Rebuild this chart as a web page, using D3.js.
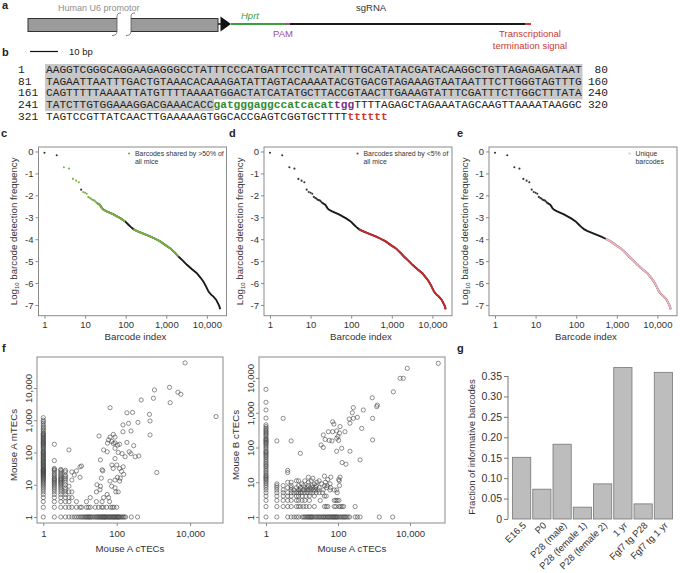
<!DOCTYPE html>
<html><head><meta charset="utf-8">
<script src="https://cdn.jsdelivr.net/npm/d3@7"></script>
<style>body{margin:0;background:#fff}svg{display:block}text{font-family:"Liberation Sans",Arial,sans-serif;fill:#222}text.mono,text.mono tspan{font-family:"Liberation Mono","Courier New",monospace}</style>
</head><body><svg id="fig" width="680" height="573"></svg>
<script>
// ---------------- DATA ----------------
const seqStarts = [1, 81, 161, 241, 321];
const seqEnds = [80, 160, 240, 320, null];
const seqLines = [
  "AAGGTCGGGCAGGAAGAGGGCCTATTTCCCATGATTCCTTCATATTTGCATATACGATACAAGGCTGTTAGAGAGATAAT",
  "TAGAATTAATTTGACTGTAAACACAAAGATATTAGTACAAAATACGTGACGTAGAAAGTAATAATTTCTTGGGTAGTTTG",
  "CAGTTTTTAAAATTATGTTTTAAAATGGACTATCATATGCTTACCGTAACTTGAAAGTATTTCGATTTCTTGGCTTTATA",
  "TATCTTGTGGAAAGGACGAAACACCgatgggaggccatcacattggTTTTAGAGCTAGAAATAGCAAGTTAAAATAAGGC",
  "TAGTCCGTTATCAACTTGAAAAAGTGGCACCGAGTCGGTGCTTTTtttttt"
];
const seqHighlightLen = [80, 80, 80, 25, 0];
const seqMarks = [
  {line: 3, from: 25, to: 43, kind: "spacer"},
  {line: 3, from: 43, to: 46, kind: "pam"},
  {line: 4, from: 45, to: 51, kind: "term"}
];

// rank-abundance curve (panels c, d, e share the same barcodes)
const earlyRank = [1,2,3,4,5,6,7,8,9,10,11,12,13,14,15,16,17,18,19,20];
const earlyLog = [-0.06,-0.17,-0.72,-0.78,-1.25,-1.33,-1.40,-1.74,-1.85,-1.88,-1.93,-2.07,-2.12,-2.15,-2.20,-2.22,-2.24,-2.28,-2.33,-2.36];
const curveRank = [20,23,26,28,33,41,50,61,75,97,117,135,155,185,228,300,400,530,705,950,1240,1600,1990,2550,3220,4300,5650,7000,8240,9500,10960,12500,14500,17000,19000,20200,21200];
const curveLog = [-2.36,-2.43,-2.58,-2.65,-2.72,-2.8,-2.87,-2.96,-3.05,-3.19,-3.34,-3.45,-3.54,-3.62,-3.69,-3.78,-3.87,-3.98,-4.1,-4.27,-4.41,-4.6,-4.79,-4.98,-5.17,-5.37,-5.55,-5.76,-5.94,-6.15,-6.39,-6.52,-6.62,-6.77,-6.95,-7.05,-7.2];
const rankYTicks = [0,-1,-2,-3,-4,-5,-6,-7];
const rankXTicks = [1,10,100,1000,10000];

// panel f : Mouse A cTECs vs Mouse A mTECs
const fA_col1 = [1,2,3,4,5,6,7,8,9,10,11,12,13,14,15,16,17,18,19,20,21,22,23,24,25,26,27,28,29,30,32,34,36,38,40,42,45,48,50,53,56,60,63,67,70,75,80,85,90,95,100,105,110,120,130,140,150,160,170,180,190,200,210,220,235,250,265,280,300,320,340,360,380,400,450,500,560,620,700,800,900,1000,1200];
const fA_row1 = [2,3,4,5,6,7,8,9,10,11,12,13,14,15,16,17,18,19,20,22,24,26,28,30,32,34,36,38,40,42,44,46,48,50,53,56,60,63,66,70,74,78,82,86,90,95,100,105,110,115,120,130,140,150,160,175,250,370];
const fA_pts = [[2,2],[3,2],[4,2],[5,2],[6,2],[8,2],[10,2],[11,2],[15,2],[17,2],[19,2],[26,2],[32,2],[39,2],[43,2],[53,2],[68,2],[76,2],[84,2],[100,2],
[2,3],[2,4],[2,5],[2,6],[2,7],[2,8],[2,9],[2,10],[2,11],[2,12],[2,13],[2,14],[2,15],[2,16],[2,18],[2,20],[2,22],[2,25],[2,28],[2,30],[2,32],[2,56],[2,180],
[3,3],[3,4],[3,5],[3,6],[3,7],[3,8],[3,9],[3,10],[3,11],[3,12],[3,13],[3,14],[3,15],[3,16],[3,18],[3,20],[3,22],[3,25],[3,28],[3,30],
[4,3],[4,4],[4,5],[4,6],[4,7],[4,8],[4,10],[4,12],[4,14],[4,16],[4,18],[4,20],[4,25],[4,28],
[5,3],[5,4],[5,6],[5,9],[5,120],[6,4],[6,6],[6,14],[6,25],[7,20],[8,3],[8,27],[10,17],[10,36],[11,38],[15,3],[19,4],[28,3],
[29,10],[36,9],[38,16],[40,3],[42,27],[44,4],[40,29],[55,5],[60,4],[64,3],[28,6],[35,7],[66,13],[73,9],[90,8],[95,6],[110,6],[90,14],[105,17],[120,13],[125,16],[155,21],[135,26],[150,36],[120,32],[80,32],[74,41],[100,41],[36,59],[90,65],[170,74],[320,74],[400,78],[140,92],[245,92],[110,100],[55,105],[220,105],[44,120],[90,135],[290,163],[105,170],[120,180],[56,195],[90,200],[81,190],[190,205],[73,220],[60,245],[66,300],[90,300],[33,325],[810,350],[81,365],[148,440],[245,465],[148,715],[210,800],[380,860],[810,950],[780,1520],[190,1700],[270,1750],[66,2450],[1240,24],
[465,4250],[1000,4800],[2860,3500],[5600,6400],[4650,7400],[1070,8700],[2750,10500],[7300,60000],[51000,1300]];

// panel f : Mouse A cTECs vs Mouse B cTECs
const fB_col1 = [1,2,3,4,5,6,7,8,9,10,11,12,13,14,15,16,18,20,22,25,28,30,33,36,40,45,50,55,60,65,70,75,80,90,100,110,120,130,140,150,160,170,180,200,220,240,260,280,300,330,360,400,450,700,1200,2000,4700];
const fB_row1 = [2,4,5,6,7,8,10,11,12,13,14,15,16,17,18,19,20,22,24,26,28,30,32,35,38,40,43,46,50,53,56,60,64,68,72,76,80,85,90,95,100,110,120,130,140,150,160,175,190,210,300,345,410,1400,3300];
const fB_pts = [[2,2],[3,2],[4,2],[5,2],[7,2],[8,2],[9,2],[11,2],[13,2],[16,2],[22,2],[42,2],[47,2],[52,2],[79,2],[87,2],[106,2],[117,2],[130,2],[143,2],[300,2],
[2,3],[3,3],[4,3],[5,3],[7,3],[8,3],[10,3],[12,3],[16,3],[32,3],[79,3],[87,3],[95,3],[106,3],
[2,4],[3,4],[4,4],[5,4],[7,4],[8,4],[10,4],[13,4],[16,4],[22,4],[42,4],[47,4],
[2,5],[3,5],[4,5],[5,5],[6,5],[7,5],[8,5],[9,5],[10,5],[12,5],[14,5],[17,5],[20,5],[25,5],[30,5],[37,5],[95,5],
[2,6],[3,6],[5,6],[6,6],[8,6],[9,6],[11,6],[13,6],[15,6],[18,6],[21,6],[24,6],[28,6],[39,6],[60,6],[79,6],[92,6],
[2,7],[4,7],[5,7],[7,7],[9,7],[12,7],[14,7],[17,7],[20,7],[24,7],[30,7],[48,7],[62,7],
[2,8],[3,8],[5,8],[8,8],[11,8],[15,8],[19,8],[25,8],[42,8],[50,8],[110,8],
[2,9],[4,10],[5,10],[7,11],[8,11],[10,9],[12,11],[15,10],[18,11],[20,13],[22,9],[26,10],[30,11],[35,9],[45,10],[52,12],[60,9],[105,12],[108,11],[15,14],[42,15],[63,14],[114,14],
[4,19],[4,22],[9,68],[2,155],[5,155],[3,690],[39,100],[34,118],[127,95],[92,78],[215,78],[410,44],[130,37],[166,33],[44,170],[57,160],[68,155],[92,185],[104,160],[100,210],[110,260],[39,230],[54,285],[71,285],[92,300],[114,400],[156,285],[455,355],[915,165],[71,550],[77,470],[215,500],[205,660],[266,690],[345,740],[250,1000],[266,1400],[505,1200],[915,690],[1190,1500],[1240,1660],[895,2700],[3450,4000],[5300,9800],[6500,9800],[8400,19000],[61000,26500]];
const fTicksY = [1,10,100,1000,10000];
const fTicksX = [1,100,10000];

// panel g
const gCats = ["E16.5","P0","P28 (male)","P28 (female 1)","P28 (female 2)","1 yr","Fgf7 tg P28","Fgf7 tg 1 yr"];
const gVals = [0.151,0.073,0.183,0.029,0.086,0.371,0.037,0.359];
const gTicks = [0,0.05,0.10,0.15,0.20,0.25,0.30,0.35];

// ---------------- DRAW ----------------
const svg = d3.select("#fig");
const fmtC = d3.format(",");

function plabel(t,x,y){svg.append("text").attr("x",x).attr("y",y).attr("font-size",11).attr("font-weight","bold").text(t);}
plabel("a",2,9); plabel("b",2,56); plabel("c",1,137); plabel("d",229,137); plabel("e",457,137); plabel("f",2,352); plabel("g",457,352);

// ---- panel a ----
const gA = svg.append("g");
gA.append("text").attr("x",58).attr("y",11).attr("font-size",9).style("fill","#8e8e8e").text("Human U6 promotor");
gA.append("rect").attr("x",28).attr("y",18.5).attr("width",190).attr("height",13).attr("fill","#9b9b9b").attr("stroke","#333").attr("stroke-width",1);
gA.append("rect").attr("x",117).attr("y",17.8).attr("width",14).attr("height",14.5).attr("fill","#fff");
[117,131].forEach(x=>gA.append("path").attr("d",`M${x+4},13 C${x},13 ${x},15 ${x},19 L${x},30 C${x},34 ${x-1},35.5 ${x-5},35.5`).attr("fill","none").attr("stroke","#555").attr("stroke-width",0.8));
gA.append("line").attr("x1",218).attr("x2",221).attr("y1",24).attr("y2",24).attr("stroke","#111").attr("stroke-width",1.5);
gA.append("path").attr("d","M220.5,16.5 L231,24 L220.5,31.5 Z").attr("fill","#111");
const segA = [[231,285,"#3aa03a"],[285,290,"#a64ca6"],[290,525,"#1a1a1a"],[525,531,"#d7342b"]];
segA.forEach(s=>gA.append("line").attr("x1",s[0]).attr("x2",s[1]).attr("y1",24).attr("y2",24).attr("stroke",s[2]).attr("stroke-width",2));
gA.append("text").attr("x",241).attr("y",19).attr("font-size",9.5).attr("font-style","italic").style("fill","#3a9a3a").text("Hprt");
gA.append("text").attr("x",273).attr("y",37).attr("font-size",9.5).style("fill","#9a4aa8").text("PAM");
gA.append("text").attr("x",356).attr("y",11).attr("font-size",9.5).style("fill","#333").text("sgRNA");
gA.append("text").attr("x",530).attr("y",37).attr("font-size",9.5).attr("text-anchor","middle").style("fill","#c83a32").text("Transcriptional");
gA.append("text").attr("x",530).attr("y",49).attr("font-size",9.5).attr("text-anchor","middle").style("fill","#c83a32").text("termination signal");

// ---- panel b ----
const gB = svg.append("g");
gB.append("line").attr("x1",30).attr("x2",58).attr("y1",51.5).attr("y2",51.5).attr("stroke","#111").attr("stroke-width",1.2);
gB.append("text").attr("x",69).attr("y",55).attr("font-size",9.5).text("10 bp");
const x0 = 46, cw = 6.7, rowH = 11.7, fsM = cw/0.6;
seqLines.forEach((s,i)=>{
  if(seqHighlightLen[i]>0) gB.append("rect").attr("x",x0-1).attr("y",64+i*rowH).attr("width",seqHighlightLen[i]*cw+1.5).attr("height",rowH+0.3).attr("fill","#c8c8c8");
});
const markStyle = {spacer:{fill:"#2e8b2e",w:"bold"}, pam:{fill:"#7b2d82",w:"bold"}, term:{fill:"#d7342b",w:"bold"}};
seqLines.forEach((s,i)=>{
  const y = 73 + i*rowH;
  gB.append("text").attr("class","mono").attr("x",18).attr("y",y).attr("font-size",fsM).text(seqStarts[i]);
  if(seqEnds[i]!==null) gB.append("text").attr("class","mono").attr("x",608).attr("y",y).attr("text-anchor","end").attr("font-size",fsM).text(seqEnds[i]);
  const t = gB.append("text").attr("class","mono").attr("y",y).attr("font-size",fsM);
  const marks = seqMarks.filter(m=>m.line===i);
  let bounds=[0]; marks.forEach(m=>{bounds.push(m.from,m.to);}); bounds.push(s.length);
  bounds = Array.from(new Set(bounds)).sort((a,b)=>a-b);
  for(let k=0;k<bounds.length-1;k++){
    const a=bounds[k], b=bounds[k+1]; if(b<=a) continue;
    const m = marks.find(mm=>mm.from===a);
    const ts = t.append("tspan").attr("x",x0+a*cw).text(s.slice(a,b));
    if(m){ts.style("fill",markStyle[m.kind].fill).attr("font-weight",markStyle[m.kind].w);}
  }
});

// ---- panels c, d, e ----
const rankPanels = [
  {left:38.5, hi:"#79b342", hiCurve:[[20,97],[155,1990]], hiDots:r=>r>=3&&r!==8, legend:["Barcodes shared by >50% of","all mice"], dotX:129},
  {left:264, hi:"#c8282b", hiCurve:[[155,1e9]], hiDots:r=>false, legend:["Barcodes shared by <5% of","all mice"], dotX:357.5},
  {left:489, hi:"#f1b5c1", hiCurve:[[530,1e9]], hiDots:r=>false, legend:["Unique","barcodes"], dotX:629.5}
];
const curveData = curveRank.map((r,i)=>({r, v:curveLog[i]}));
const earlyData = earlyRank.map((r,i)=>({r, v:earlyLog[i]}));
rankPanels.forEach(p=>{
  const W=188, top=147, bot=315.7;
  const x = d3.scaleLog().domain([Math.pow(10,-6/40.6), Math.pow(10,(W-6)/40.6)]).range([p.left,p.left+W]);
  const y = d3.scaleLinear().domain([-7.49,0.205]).range([bot,top]);
  const g = svg.append("g");
  g.append("rect").attr("x",p.left).attr("y",top).attr("width",W).attr("height",bot-top).attr("fill","none").attr("stroke","#8a8a8a");
  const ya = g.append("g").attr("transform",`translate(${p.left},0)`).call(d3.axisLeft(y).tickValues(rankYTicks).tickSize(3).tickPadding(2).tickFormat(d=>d===0?"0":"-"+Math.abs(d)));
  const xa = g.append("g").attr("transform",`translate(0,${bot})`).call(d3.axisBottom(x).tickValues(rankXTicks).tickSize(3).tickPadding(3).tickFormat(fmtC));
  [ya,xa].forEach(a=>{a.select(".domain").remove(); a.selectAll("line").attr("stroke","#8a8a8a"); a.selectAll("text").attr("font-size",9.5).style("fill","#333").attr("font-family",null);});
  const yt = g.append("text").attr("transform",`translate(${p.left-21.5},${(top+bot)/2}) rotate(-90)`).attr("text-anchor","middle").attr("font-size",9.7).style("fill","#333");
  yt.append("tspan").text("Log");
  yt.append("tspan").attr("font-size",6).attr("dy",2).text("10");
  yt.append("tspan").attr("dy",-2).text(" barcode detection frequency");
  g.append("text").attr("x",p.left+W/2+3).attr("y",340).attr("text-anchor","middle").attr("font-size",9.7).style("fill","#333").text("Barcode index");
  g.append("circle").attr("cx",p.dotX).attr("cy",153.5).attr("r",1.1).attr("fill",p.hi);
  p.legend.forEach((t,i)=>g.append("text").attr("x",p.dotX+6).attr("y",155.5+i*8).attr("font-size",6.9).style("fill","#333").text(t));
  g.selectAll(".ed").data(earlyData).enter().append("circle").attr("cx",d=>x(d.r)).attr("cy",d=>y(d.v)).attr("r",1.05)
    .attr("fill",d=>p.hiDots(d.r)?p.hi:"#333");
  const line = d3.line().x(d=>x(d.r)).y(d=>y(d.v));
  g.append("path").attr("d",line(curveData)).attr("fill","none").attr("stroke","#1a1a1a").attr("stroke-width",1.9);
  p.hiCurve.forEach(rg=>{
    const sub = curveData.filter(d=>d.r>=rg[0]&&d.r<=rg[1]);
    g.append("path").attr("d",line(sub)).attr("fill","none").attr("stroke",p.hi).attr("stroke-width",1.9);
  });
});

// ---- panel f ----
const fPanels = [
  {left:37, one:43.3, decX:36.7, decY:32.25, col:fA_col1, row:fA_row1, pts:fA_pts, ylab:"Mouse A mTECs", ylabX:17},
  {left:259, one:266, decX:36, decY:34.75, col:fB_col1, row:fB_row1, pts:fB_pts, ylab:"Mouse B cTECs", ylabX:239}
];
fPanels.forEach(p=>{
  const W=186, top=357, bot=523, y1=517;
  const x = d3.scaleLog().domain([Math.pow(10,(p.left-p.one)/p.decX), Math.pow(10,(p.left+W-p.one)/p.decX)]).range([p.left,p.left+W]);
  const y = d3.scaleLog().domain([Math.pow(10,(y1-bot)/p.decY), Math.pow(10,(y1-top)/p.decY)]).range([bot,top]);
  const g = svg.append("g");
  g.append("rect").attr("x",p.left).attr("y",top).attr("width",W).attr("height",bot-top).attr("fill","none").attr("stroke","#8a8a8a");
  const xa = g.append("g").attr("transform",`translate(0,${bot})`).call(d3.axisBottom(x).tickValues(fTicksX).tickSize(3).tickPadding(4).tickFormat(fmtC));
  const ya = g.append("g").attr("transform",`translate(${p.left},0)`).call(d3.axisLeft(y).tickValues(fTicksY).tickSize(3).tickFormat(fmtC));
  [xa,ya].forEach(a=>{a.select(".domain").remove(); a.selectAll("line").attr("stroke","#8a8a8a"); a.selectAll("text").attr("font-size",9.5).style("fill","#333").attr("font-family",null);});
  ya.selectAll("text").attr("x",null).attr("dy",null).attr("text-anchor","middle").attr("transform","translate(-5,0) rotate(-90)");
  g.append("text").attr("x",p.left+W/2).attr("y",552).attr("text-anchor","middle").attr("font-size",9.7).style("fill","#333").text("Mouse A cTECs");
  g.append("text").attr("transform",`translate(${p.ylabX},${(top+bot)/2+5}) rotate(-90)`).attr("text-anchor","middle").attr("font-size",9.7).style("fill","#333").text(p.ylab);
  const all = p.col.map(v=>[1,v]).concat(p.row.map(v=>[v,1])).concat(p.pts);
  g.selectAll(".pt").data(all).enter().append("circle").attr("cx",d=>x(d[0])).attr("cy",d=>y(d[1])).attr("r",2.1)
    .attr("fill","none").attr("stroke","#444").attr("stroke-width",0.6);
});

// ---- panel g ----
const gG = svg.append("g");
const yG = d3.scaleLinear().domain([0,0.35]).range([519,376]);
const xG = d3.scaleBand().domain(gCats).range([511.5,673.5]).paddingInner(0.1).paddingOuter(0.05);
gG.selectAll(".bar").data(gCats).enter().append("rect").attr("x",d=>xG(d)).attr("width",xG.bandwidth())
  .attr("y",(d,i)=>yG(gVals[i])).attr("height",(d,i)=>519-yG(gVals[i])).attr("fill","#bdbdbd").attr("stroke","#777").attr("stroke-width",0.8);
const yaG = gG.append("g").attr("transform","translate(508,0)").call(d3.axisLeft(yG).tickValues(gTicks).tickSize(4).tickPadding(2).tickFormat(d=>d===0?"0":d3.format(".2f")(d)));
yaG.select(".domain").attr("stroke","#777").attr("d","M0,376V519");
yaG.selectAll("line").attr("stroke","#777");
yaG.selectAll("text").attr("font-size",10.5).style("fill","#333").attr("font-family",null);
gG.append("text").attr("transform","translate(475,447) rotate(-90)").attr("text-anchor","middle").attr("font-size",9.5).style("fill","#333").text("Fraction of informative barcodes");
gG.selectAll(".xl").data(gCats).enter().append("text").attr("text-anchor","end").attr("font-size",9.5).style("fill","#333")
  .attr("transform",d=>`translate(${xG(d)+xG.bandwidth()/2+5},${526}) rotate(-45)`).text(d=>d);
</script>
</body></html>
